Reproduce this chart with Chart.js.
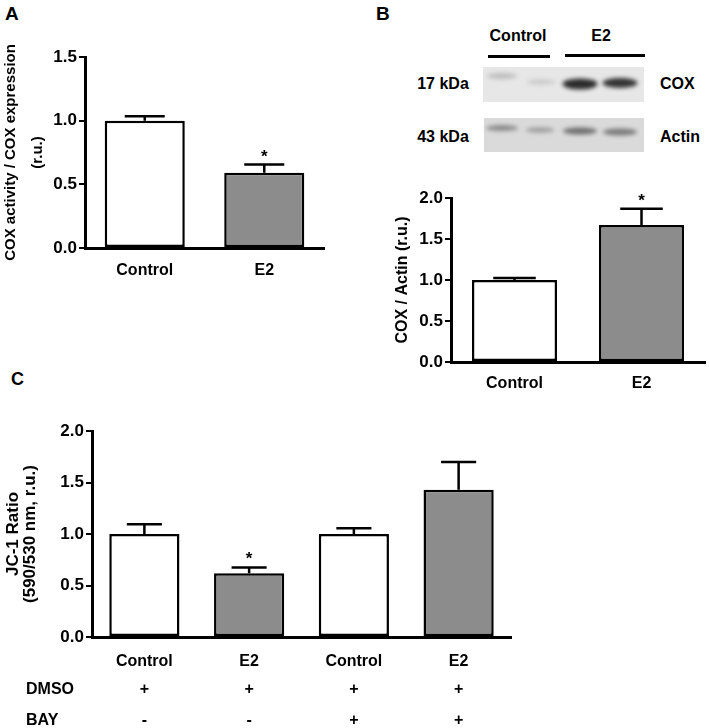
<!DOCTYPE html>
<html>
<head>
<meta charset="utf-8">
<script src="https://cdn.jsdelivr.net/npm/chart.js@4.4.1/dist/chart.umd.min.js"></script>
<style>
  body { margin: 0; background: #fff; width: 709px; height: 728px; position: relative; overflow: hidden;
         font-family: "Liberation Sans", Arial, sans-serif; font-weight: bold; color: #000; }
  .t { position: absolute; line-height: 1; white-space: nowrap; transform: translateY(-50%); font-size: 16px; }
  .c { transform: translate(-50%, -50%); }
  .bar { position: absolute; height: 3px; background: #000; }
  canvas { position: absolute; }
</style>
</head>
<body>

<div class="t" style="left:5px;top:13px;font-size:19px">A</div>
<div class="t" style="left:376px;top:13px;font-size:19px">B</div>
<div class="t" style="left:11px;top:379px;font-size:18px">C</div>

<!-- western blot header -->
<div class="t c" style="left:518px;top:36px">Control</div>
<div class="t c" style="left:601px;top:36px">E2</div>
<div class="bar" style="left:488px;top:55px;width:62px"></div>
<div class="bar" style="left:565px;top:54px;width:80px"></div>
<div class="t c" style="left:443px;top:84px">17 kDa</div>
<div class="t c" style="left:443px;top:137px">43 kDa</div>
<div class="t" style="left:660px;top:84px">COX</div>
<div class="t" style="left:660px;top:137px">Actin</div>
<canvas id="blot" width="170" height="100" style="left:480px;top:60px"></canvas>

<canvas id="chartA" width="333" height="255" style="left:-3px;top:40px"></canvas>
<canvas id="chartB" width="324" height="215" style="left:385px;top:180px"></canvas>
<canvas id="chartC" width="520" height="314" style="left:0px;top:414px"></canvas>

<script>
// panel A
const labelsA = ['Control', 'E2'];
const valuesA = [1.0, 0.59];
const errorsA = [0.035, 0.065];
const starsA = ['', '*'];

// panel B
const labelsB = ['Control', 'E2'];
const valuesB = [1.0, 1.67];
const errorsB = [0.025, 0.2];
const starsB = ['', '*'];

// panel C
const labelsC = ['Control', 'E2', 'Control', 'E2'];
const valuesC = [1.0, 0.62, 1.0, 1.43];
const errorsC = [0.095, 0.055, 0.055, 0.27];
const starsC = ['', '*', '', ''];
const dmsoRow = ['+', '+', '+', '+'];
const bayRow = ['-', '-', '+', '+'];

const GREY = '#8c8c8c';

Chart.defaults.font.family = '"Liberation Sans", Arial, sans-serif';
Chart.defaults.font.weight = 'bold';
Chart.defaults.font.size = 16;
Chart.defaults.color = '#000';

// SEM bars (upper only) + significance stars
const errBars = {
  id: 'errbars',
  afterDatasetsDraw(chart, args, opts) {
    const ctx = chart.ctx;
    const y = chart.scales.y;
    const ds = chart.data.datasets[0];
    chart.getDatasetMeta(0).data.forEach((bar, i) => {
      const v = ds.data[i];
      const top = y.getPixelForValue(v + opts.errors[i]);
      const base = y.getPixelForValue(v);
      const half = bar.width / 4;
      ctx.save();
      ctx.strokeStyle = '#000';
      ctx.lineWidth = 2.5;
      ctx.beginPath();
      ctx.moveTo(bar.x, base);
      ctx.lineTo(bar.x, top);
      ctx.moveTo(bar.x - half, top);
      ctx.lineTo(bar.x + half, top);
      ctx.stroke();
      if (opts.stars && opts.stars[i]) {
        ctx.fillStyle = '#000';
        ctx.font = 'bold 17px "Liberation Sans", Arial, sans-serif';
        ctx.textAlign = 'center';
        ctx.textBaseline = 'alphabetic';
        ctx.fillText(opts.stars[i], bar.x, top - 3);
      }
      ctx.restore();
    });
  }
};

// treatment rows under panel C
const rowLabels = {
  id: 'rows',
  afterDraw(chart, args, opts) {
    if (!opts.rows) return;
    const ctx = chart.ctx;
    const x = chart.scales.x;
    ctx.save();
    ctx.fillStyle = '#000';
    ctx.font = 'bold 16px "Liberation Sans", Arial, sans-serif';
    ctx.textBaseline = 'middle';
    opts.rows.forEach(r => {
      ctx.textAlign = 'left';
      ctx.fillText(r.name, 26, r.y);
      ctx.textAlign = 'center';
      r.marks.forEach((m, i) => ctx.fillText(m, x.getPixelForValue(i), r.y));
    });
    ctx.restore();
  }
};

function barChart(id, labels, values, errors, stars, colors, yMax, title, titleFont, box, rows) {
  return new Chart(document.getElementById(id), {
    type: 'bar',
    data: {
      labels: labels,
      datasets: [{
        data: values,
        backgroundColor: colors,
        borderColor: '#000',
        borderWidth: 2.5,
        borderSkipped: false,
        barPercentage: 0.67,
        categoryPercentage: 1
      }]
    },
    options: {
      responsive: false,
      animation: false,
      devicePixelRatio: 1,
      layout: { padding: { left: 0, top: box.top, right: box.right, bottom: 0 } },
      plugins: {
        legend: { display: false },
        tooltip: { enabled: false },
        errbars: { errors: errors, stars: stars },
        rows: { rows: rows }
      },
      scales: {
        x: {
          grid: { display: false, drawTicks: false },
          border: { display: true, color: '#000', width: 3 },
          ticks: { padding: box.xpad, font: { size: 16 } },
          afterFit: s => { s.height = box.xh; }
        },
        y: {
          min: 0,
          max: yMax,
          grid: { drawOnChartArea: false, color: '#000', lineWidth: 2, tickLength: 6 },
          border: { display: true, color: '#000', width: 3 },
          ticks: { stepSize: 0.5, padding: 2, font: { size: 17 }, callback: v => v.toFixed(1) },
          title: { display: true, text: title, font: titleFont, padding: { top: box.tpad, bottom: 0 } },
          afterFit: s => { s.width = box.yw; }
        }
      }
    },
    plugins: [errBars, rowLabels]
  });
}

barChart('chartA', labelsA, valuesA, errorsA, starsA, ['#fff', GREY], 1.5,
  ['COX activity / COX expression', '(r.u.)'], { size: 15, lineHeight: 1.83 },
  { top: 17, right: 6, yw: 88, xh: 47, xpad: 13, tpad: 0 });

barChart('chartB', labelsB, valuesB, errorsB, starsB, ['#fff', GREY], 2.0,
  'COX / Actin (r.u.)', { size: 16, lineHeight: 1.2 },
  { top: 18, right: 4, yw: 66, xh: 33, xpad: 12, tpad: 8 });

barChart('chartC', labelsC, valuesC, errorsC, starsC, ['#fff', GREY, '#fff', GREY], 2.0,
  ['JC-1 Ratio', '(590/530 nm, r.u.)'], { size: 17, lineHeight: 1.0 },
  { top: 17, right: 9, yw: 92, xh: 91, xpad: 15, tpad: 5 },
  [{ name: 'DMSO', y: 276, marks: dmsoRow }, { name: 'BAY', y: 307, marks: bayRow }]);

// western blot image (drawn, not data)
(function () {
  const ctx = document.getElementById('blot').getContext('2d');
  ctx.fillStyle = '#e7e7e7';
  ctx.fillRect(3, 7, 161, 35);
  ctx.fillStyle = '#dadada';
  ctx.fillRect(4, 58, 160, 34);
  ctx.filter = 'blur(2px)';
  const band = (x, y, w, h, c) => {
    ctx.fillStyle = c;
    ctx.beginPath();
    ctx.ellipse(x, y, w / 2, h / 2, 0, 0, Math.PI * 2);
    ctx.fill();
  };
  band(22, 16, 30, 6, '#bdbdbd');
  band(61, 22, 28, 5, '#c8c8c8');
  band(100, 24, 35, 11, '#2b2b2b');
  band(140, 23, 35, 10, '#333');
  band(22, 68, 32, 6, '#8a8a8a');
  band(60, 70, 28, 5, '#999');
  band(100, 71, 34, 7, '#6e6e6e');
  band(140, 72, 34, 7, '#7a7a7a');
})();
</script>
</body>
</html>
